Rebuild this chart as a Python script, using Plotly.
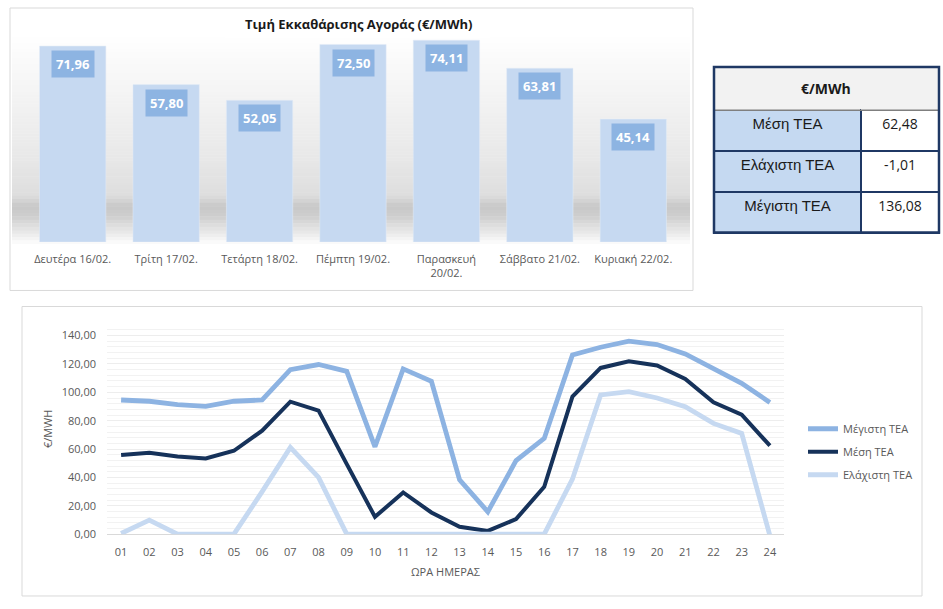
import plotly.graph_objects as go

W = 943
H = 609

days = ["Δευτέρα 16/02.", "Τρίτη 17/02.", "Τετάρτη 18/02.", "Πέμπτη 19/02.",
        "Παρασκευή<br>20/02.", "Σάββατο 21/02.", "Κυριακή 22/02."]
day_price = [71.96, 57.80, 52.05, 72.50, 74.11, 63.81, 45.14]

stat_names = ["Μέση ΤΕΑ", "Ελάχιστη ΤΕΑ", "Μέγιστη ΤΕΑ"]
stat_values = ["62,48", "-1,01", "136,08"]

hours = ["%02d" % h for h in range(1, 25)]
max_tea = [94.6, 93.7, 91.3, 90.1, 93.7, 94.6, 116.0, 119.6, 114.8, 61.6, 116.5, 107.8,
           38.3, 15.8, 51.8, 67.5, 126.4, 131.8, 136.08, 133.7, 127.1, 116.5, 106.4, 92.9]
mean_tea = [55.8, 57.4, 54.8, 53.4, 58.8, 73.0, 93.4, 87.1, 49.4, 12.2, 29.4, 15.3,
            5.2, 2.3, 10.6, 33.4, 97.0, 117.2, 121.9, 118.9, 109.5, 92.9, 84.2, 62.4]
min_tea = [0.5, 9.9, 0.0, 0.0, 0.0, 30.0, 61.2, 40.0, 0.0, 0.0, 0.0, 0.0,
           0.0, 0.0, 0.0, 0.0, 38.8, 98.2, 100.5, 96.0, 89.9, 78.1, 71.0, -1.01]


def px(x):
    return x / W


def py(y):
    return 1 - y / H


fig = go.Figure()

# --- bar chart (top left)
fig.add_trace(go.Bar(x=days, y=day_price, marker_color="#C6D9F1", width=0.71,
                     showlegend=False, hoverinfo="x+y", xaxis="x", yaxis="y"))

for d, v in zip(days, day_price):
    fig.add_annotation(x=d, y=v, xref="x", yref="y", xanchor="center", yanchor="top",
                       yshift=-4, text="<b>" + ("%.2f" % v).replace(".", ",") + "</b>",
                       showarrow=False, bgcolor="#8DB4E2", borderpad=4,
                       font=dict(color="white", size=13, family="Open Sans"))

# --- table (top right)
fig.add_trace(go.Table(
    domain=dict(x=[px(714), px(939)], y=[py(240), py(67)]),
    columnwidth=[147, 78],
    header=dict(values=["", ""], height=43, fill_color="#F2F2F2",
                line=dict(color="#F2F2F2", width=1)),
    cells=dict(values=[stat_names, stat_values], height=41,
               fill_color=["#C5D9F1", "white"],
               line=dict(color="#1F3864", width=2),
               align="center",
               font=dict(family=["Liberation Sans", "Open Sans"], size=[15, 14],
                         color="#1A1A1A")),
))

# --- line chart (bottom)
fig.add_trace(go.Scatter(x=hours, y=max_tea, name="Μέγιστη ΤΕΑ", mode="lines",
                         line=dict(color="#8DB3E2", width=4.8), legendgroup="a",
                         xaxis="x2", yaxis="y2"))
fig.add_trace(go.Scatter(x=hours, y=mean_tea, name="Μέση ΤΕΑ", mode="lines",
                         line=dict(color="#16325A", width=4), legendgroup="b",
                         xaxis="x2", yaxis="y2"))
fig.add_trace(go.Scatter(x=hours, y=min_tea, name="Ελάχιστη ΤΕΑ", mode="lines",
                         line=dict(color="#C6D9F1", width=4.8), legendgroup="c",
                         xaxis="x2", yaxis="y2"))

shapes = []

# soft grey backdrop behind the bars (stacked strips)
profile = [(37, 255), (100, 243), (160, 232), (195, 222), (206, 200), (216, 206),
           (230, 230), (243, 253)]
for i in range(len(profile) - 1):
    y0, c0 = profile[i]
    y1, c1 = profile[i + 1]
    n = max(1, int((y1 - y0) / 3))
    for k in range(n):
        a = y0 + (y1 - y0) * k / n
        b = y0 + (y1 - y0) * (k + 1) / n
        c = int(c0 + (c1 - c0) * (k + 0.5) / n)
        shapes.append(dict(type="rect", xref="paper", yref="paper", layer="below",
                           x0=px(12), x1=px(690), y0=py(b + 0.5), y1=py(a),
                           line_width=0, fillcolor="rgb(%d,%d,%d)" % (c, c, c)))

# white box behind the bar chart title
shapes.append(dict(type="rect", xref="paper", yref="paper", layer="below",
                   x0=px(225), x1=px(490), y0=py(38), y1=py(10),
                   line_width=0, fillcolor="white"))

# panel borders
shapes.append(dict(type="rect", xref="paper", yref="paper", x0=px(10), x1=px(693),
                   y0=py(290), y1=py(8), line=dict(color="#D9D9D9", width=1)))
shapes.append(dict(type="rect", xref="paper", yref="paper", x0=px(22), x1=px(922),
                   y0=py(595), y1=py(306), line=dict(color="#D9D9D9", width=1)))
# thin grey line under the table header, then the table outline
shapes.append(dict(type="line", xref="paper", yref="paper", x0=px(714), x1=px(939),
                   y0=py(110), y1=py(110), line=dict(color="#7F7F7F", width=1.5)))
shapes.append(dict(type="rect", xref="paper", yref="paper", x0=px(714), x1=px(939),
                   y0=py(232), y1=py(67), line=dict(color="#1F3864", width=2.5)))

fig.add_annotation(x=px(826), y=py(88), xref="paper", yref="paper", showarrow=False,
                   xanchor="center", yanchor="middle",
                   text="<b>€/MWh</b>", font=dict(family="Open Sans", size=14, color="#1A1A1A"))

fig.add_annotation(x=px(358), y=py(24), xref="paper", yref="paper", showarrow=False,
                   xanchor="center", yanchor="middle",
                   text="<b>Τιμή Εκκαθάρισης Αγοράς (€/MWh)</b>",
                   font=dict(family="Open Sans", size=13, color="#1A1A1A"))

grey = "#595959"
fig.update_layout(
    width=W, height=617,
    margin=dict(l=0, r=0, t=0, b=0),
    paper_bgcolor="white",
    plot_bgcolor="rgba(0,0,0,0)",
    separators=",.",
    font=dict(family="Open Sans", size=11, color=grey),
    shapes=shapes,
    xaxis=dict(domain=[px(26), px(680)], anchor="y", showgrid=False, showline=False,
               ticks="", tickfont=dict(size=11, color=grey), ticklabelstandoff=9),
    yaxis=dict(domain=[py(241.7), py(37.7)], anchor="x", range=[0, 75], visible=False),
    xaxis2=dict(domain=[px(107), px(784)], anchor="y2", type="category",
                range=[-0.5, 23.5], showgrid=False, showline=False, ticks="",
                tickfont=dict(size=11, color=grey), ticklabelstandoff=10,
                title=dict(text="ΩΡΑ ΗΜΕΡΑΣ", font=dict(size=11, color=grey), standoff=10)),
    yaxis2=dict(domain=[py(533.3), py(323)], anchor="x2", range=[0, 148.5], dtick=20,
                tickformat=".2f", gridcolor="#EDEDED", zeroline=True,
                zerolinecolor="#D9D9D9", zerolinewidth=1,
                minor=dict(dtick=4, showgrid=True, gridcolor="#F2F2F2"),
                tickfont=dict(size=11, color=grey), ticklabelstandoff=10,
                title=dict(text="€/MWH", font=dict(size=11, color=grey), standoff=6)),
    legend=dict(x=px(803), y=py(451), xanchor="left", yanchor="middle",
                font=dict(size=11, color=grey), itemwidth=30, tracegroupgap=4,
                bgcolor="rgba(0,0,0,0)"),
)

# the page body has a default margin; drop it so the figure sits at the window corner
fig.write_html("out.html", config={"displayModeBar": False},
               post_script="document.body.style.margin='0';")
